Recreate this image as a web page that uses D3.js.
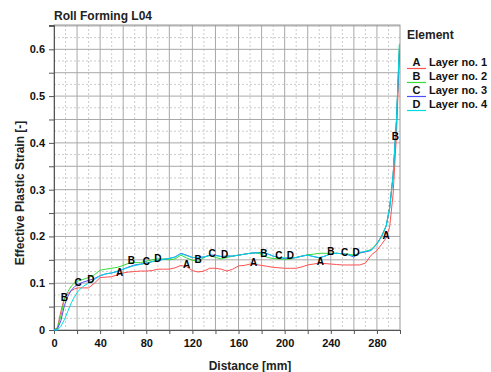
<!DOCTYPE html>
<head>
    <meta charset="utf-8">
    <title>Roll Forming L04</title>
    <style>
        body { margin: 0; background: #fff; }
        text { font-family: "Liberation Sans", Arial, sans-serif; font-weight: bold; }
    </style>
</head>

<body>
    <svg width="491" height="372"></svg>

    <script src="https://d3js.org/d3.v7.min.js"></script>

    <script>

        // distance along the profile [mm]
        var distance = [0, 3, 6, 9, 12, 15, 18, 21, 25, 30, 35, 40, 45, 50, 55, 60, 65, 70, 75, 80,
            85, 90, 95, 100, 105, 110, 115, 120, 125, 130, 135, 140, 145, 150, 155, 160, 165, 170, 175, 180,
            185, 190, 195, 200, 205, 210, 215, 220, 225, 230, 235, 240, 245, 250, 255, 260, 265, 270, 275, 280,
            284, 288, 291, 294, 297, 299.5];

        var layer1 = [0, 0.005, 0.04, 0.068, 0.078, 0.084, 0.088, 0.09, 0.09, 0.09, 0.1, 0.112, 0.113, 0.114, 0.118, 0.122, 0.124, 0.125, 0.126, 0.126,
            0.127, 0.13, 0.13, 0.13, 0.133, 0.138, 0.135, 0.127, 0.124, 0.126, 0.132, 0.132, 0.13, 0.126, 0.13, 0.137, 0.138, 0.141, 0.14, 0.138,
            0.136, 0.134, 0.133, 0.132, 0.132, 0.132, 0.135, 0.139, 0.141, 0.143, 0.142, 0.141, 0.14, 0.139, 0.139, 0.139, 0.139, 0.143, 0.16, 0.17,
            0.183, 0.197, 0.22, 0.29, 0.42, 0.59];

        var layer2 = [0, 0.005, 0.03, 0.066, 0.082, 0.094, 0.101, 0.105, 0.108, 0.112, 0.118, 0.128, 0.13, 0.132, 0.134, 0.138, 0.143, 0.144, 0.144, 0.147,
            0.15, 0.152, 0.152, 0.15, 0.152, 0.16, 0.154, 0.149, 0.147, 0.155, 0.16, 0.155, 0.152, 0.155, 0.158, 0.16, 0.162, 0.164, 0.165, 0.162,
            0.155, 0.153, 0.152, 0.151, 0.152, 0.155, 0.158, 0.161, 0.162, 0.164, 0.164, 0.164, 0.164, 0.163, 0.162, 0.16, 0.164, 0.168, 0.172, 0.185,
            0.2, 0.223, 0.262, 0.33, 0.45, 0.61];

        var layer3 = [0, 0.002, 0.02, 0.052, 0.072, 0.085, 0.093, 0.098, 0.102, 0.106, 0.11, 0.116, 0.12, 0.122, 0.125, 0.13, 0.135, 0.139, 0.141, 0.143,
            0.146, 0.149, 0.151, 0.153, 0.156, 0.164, 0.16, 0.155, 0.155, 0.156, 0.16, 0.16, 0.157, 0.158, 0.158, 0.16, 0.162, 0.164, 0.165, 0.166,
            0.163, 0.158, 0.155, 0.153, 0.154, 0.155, 0.158, 0.16, 0.157, 0.154, 0.158, 0.163, 0.164, 0.163, 0.161, 0.156, 0.165, 0.167, 0.17, 0.184,
            0.2, 0.222, 0.26, 0.33, 0.45, 0.6];

        var layer4 = [0, 0, 0.008, 0.022, 0.04, 0.058, 0.072, 0.083, 0.093, 0.1, 0.108, 0.116, 0.12, 0.122, 0.126, 0.13, 0.134, 0.138, 0.14, 0.143,
            0.146, 0.149, 0.151, 0.153, 0.156, 0.163, 0.159, 0.155, 0.155, 0.156, 0.159, 0.159, 0.157, 0.158, 0.158, 0.16, 0.162, 0.164, 0.165, 0.165,
            0.163, 0.158, 0.155, 0.154, 0.154, 0.155, 0.158, 0.16, 0.157, 0.155, 0.158, 0.163, 0.164, 0.163, 0.161, 0.158, 0.166, 0.168, 0.171, 0.184,
            0.2, 0.222, 0.26, 0.33, 0.45, 0.612];

        var letters = ["A", "B", "C", "D"];
        var names = ["Layer no. 1", "Layer no. 2", "Layer no. 3", "Layer no. 4"];
        var colors = ["#ff5050", "#33dd33", "#4d4dff", "#00dddd"];
        // where the letter markers sit along each curve [mm]
        var markerAt = [
            [57, 115, 173, 231, 288],
            [9, 67, 125, 182, 240, 296],
            [21, 80, 137, 195, 252],
            [32, 90, 148, 205, 262]
        ];
        var xTicks = [0, 40, 80, 120, 160, 200, 240, 280];
        var yTicks = [0, 0.1, 0.2, 0.3, 0.4, 0.5, 0.6];

        var series = [layer1, layer2, layer3, layer4];

        var svg = d3.select("svg"),
            margin = { top: 25, right: 91, bottom: 42, left: 54 },
            width = +svg.attr("width") - margin.left - margin.right,
            height = +svg.attr("height") - margin.top - margin.bottom;

        var x = d3.scaleLinear().domain([0, 300]).range([0, width]);
        var y = d3.scaleLinear().domain([0, 0.652]).range([height, 0]);

        var g = svg.append("g").attr("transform", "translate(" + margin.left + "," + margin.top + ")");

        // minor grid (dashed) then major grid (solid)
        g.selectAll(".vminor").data(d3.range(10, 300, 20)).enter().append("line")
            .attr("x1", x).attr("x2", x).attr("y1", 0).attr("y2", height)
            .attr("stroke", "#cccccc").attr("stroke-dasharray", "2,2");
        g.selectAll(".hminor").data(d3.range(0.025, 0.65, 0.05)).enter().append("line")
            .attr("y1", y).attr("y2", y).attr("x1", 0).attr("x2", width)
            .attr("stroke", "#cccccc").attr("stroke-dasharray", "2,2");
        g.selectAll(".vmajor").data(d3.range(20, 300, 20)).enter().append("line")
            .attr("x1", x).attr("x2", x).attr("y1", 0).attr("y2", height)
            .attr("stroke", "#a8a8a8");
        g.selectAll(".hmajor").data(d3.range(0.05, 0.651, 0.05)).enter().append("line")
            .attr("y1", y).attr("y2", y).attr("x1", 0).attr("x2", width)
            .attr("stroke", "#a8a8a8");

        g.append("rect").attr("width", width).attr("height", height)
            .attr("fill", "none").attr("stroke", "#999");

        // axes
        var xAxis = g.append("g").attr("transform", "translate(0," + height + ")")
            .call(d3.axisBottom(x).tickValues(d3.range(0, 301, 20)).tickSize(4).tickFormat(function (d) {
                return xTicks.indexOf(d) >= 0 ? d : "";
            }));
        var yAxis = g.append("g")
            .call(d3.axisLeft(y).tickValues(d3.range(0, 0.651, 0.05)).tickSize(5).tickFormat(function (d) {
                var r = Math.round(d * 10) / 10;
                return Math.abs(r - d) < 1e-6 && yTicks.indexOf(r) >= 0 ? (r === 0 ? "0" : r.toFixed(1)) : "";
            }));
        [xAxis, yAxis].forEach(function (a) {
            a.select(".domain").attr("stroke", "#555");
            a.selectAll(".tick line").attr("stroke", "#555");
            a.selectAll("text").attr("font-size", 11).attr("font-weight", "bold").attr("fill", "#111")
                .attr("font-family", "Liberation Sans, Arial, sans-serif");
        });
        xAxis.selectAll("text").attr("dy", "0.95em");
        yAxis.selectAll("text").attr("x", -9);

        // curves
        var line = d3.line()
            .x(function (d, i) { return x(distance[i]); })
            .y(function (d) { return y(d); });

        g.selectAll(".curve").data(series).enter().append("path")
            .attr("fill", "none")
            .attr("stroke", function (d, i) { return colors[i]; })
            .attr("stroke-width", 1)
            .attr("d", line);

        // letter markers placed on their curve
        markerAt.forEach(function (pos, i) {
            var interp = d3.scaleLinear().domain(distance).range(series[i]);
            g.selectAll(".mk" + i).data(pos).enter().append("text")
                .attr("x", function (d) { return x(d); })
                .attr("y", function (d) { return y(interp(d)) - 2; })
                .attr("text-anchor", "middle")
                .attr("dominant-baseline", "central")
                .attr("font-size", 10)
                .attr("fill", "#000")
                .text(letters[i]);
        });

        // title and axis labels
        svg.append("text").attr("x", 54).attr("y", 20).attr("font-size", 12).attr("fill", "#222")
            .text("Roll Forming L04");
        svg.append("text").attr("x", 250).attr("y", 370).attr("text-anchor", "middle")
            .attr("font-size", 12).attr("fill", "#222").text("Distance [mm]");
        svg.append("text").attr("transform", "translate(24,193) rotate(-90)").attr("text-anchor", "middle")
            .attr("font-size", 12).attr("fill", "#222").text("Effective Plastic Strain [-]");

        // legend
        var legend = svg.append("g").attr("transform", "translate(407,0)");
        legend.append("text").attr("x", 0).attr("y", 39).attr("font-size", 12).attr("fill", "#222").text("Element");
        var item = legend.selectAll(".item").data(letters).enter().append("g")
            .attr("transform", function (d, i) { return "translate(0," + (62 + i * 14) + ")"; });
        item.append("line").attr("x1", 0).attr("x2", 19).attr("y1", 6.5).attr("y2", 6.5)
            .attr("stroke", function (d, i) { return colors[i]; }).attr("stroke-width", 1.2);
        item.append("text").attr("x", 9.5).attr("y", 4).attr("text-anchor", "middle")
            .attr("font-size", 11).attr("fill", "#111").text(function (d) { return d; });
        item.append("text").attr("x", 22).attr("y", 4)
            .attr("font-size", 11).attr("fill", "#111").text(function (d, i) { return names[i]; });

    </script>
</body>
